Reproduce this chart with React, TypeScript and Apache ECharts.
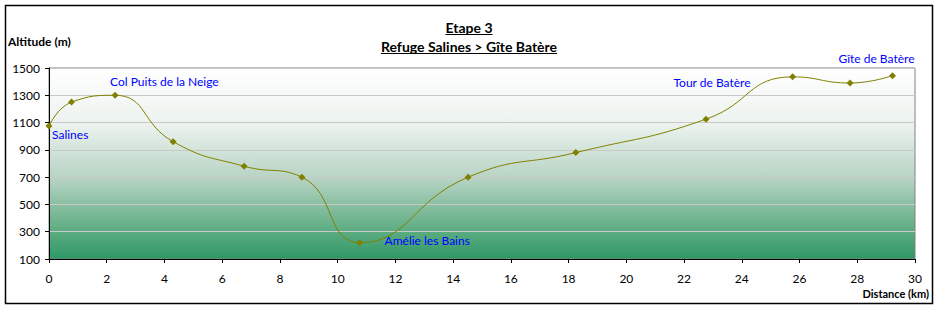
import React, { useEffect, useRef } from "react";
import * as echarts from "echarts";

// Distance (km) of each profile point
const distances = [0, 0.78, 2.29, 4.3, 6.76, 8.76, 10.76, 14.52, 18.25, 22.76, 25.76, 27.75, 29.22];
// Altitude (m) of each profile point
const altitudes = [1075, 1250, 1300, 960, 780, 700, 220, 700, 880, 1125, 1435, 1390, 1444];
// Place names attached to some points
const placeNames = ["Salines", "", "Col Puits de la Neige", "", "", "", "Amélie les Bains", "", "", "Tour de Batère", "", "", "Gîte de Batère"];

const titleLine1 = "Etape 3";
const titleLine2 = "Refuge Salines > Gîte Batère";
const yAxisTitle = "Altitude (m)";
const xAxisTitle = "Distance (km)";

const FONT = "Lato, 'DejaVu Sans', sans-serif";

// label placement (offsets from the marker centre)
const labelPlacement: Record<number, { dx: number; dy: number; align: string }> = {
  0: { dx: 3, dy: 9, align: "left" },
  2: { dx: -5, dy: -14, align: "left" },
  6: { dx: 25, dy: -2, align: "left" },
  9: { dx: 6, dy: -37, align: "center" },
  12: { dx: 22, dy: -17, align: "right" },
};

function measure(text: string, font: string): number {
  const c = document.createElement("canvas").getContext("2d");
  if (!c) return text.length * 7;
  c.font = font;
  return c.measureText(text).width;
}

export default function App() {
  const ref = useRef<HTMLDivElement>(null);
  useEffect(() => {
    if (!ref.current) return;
    const chart = echarts.init(ref.current, undefined, { renderer: "svg" });
    const SYM = 7;
    const data = distances.map((d, i) => {
      const item: any = { value: [d, altitudes[i]] };
      const p = labelPlacement[i];
      if (placeNames[i] && p) {
        item.label = {
          show: true,
          formatter: placeNames[i],
          position: [p.dx + SYM / 2, p.dy + SYM / 2],
          align: p.align,
          verticalAlign: "middle",
          color: "#0000ff",
          fontFamily: FONT,
          fontSize: 12,
        };
      }
      return item;
    });

    const titleFont1 = `bold 14px ${FONT}`;
    const titleFont2 = `bold 14px ${FONT}`;
    const w1 = measure(titleLine1, titleFont1);
    const w2 = measure(titleLine2, titleFont2);
    const cx = 469;

    chart.setOption({
      animation: false,
      backgroundColor: "#ffffff",
      grid: {
        left: 49,
        right: 24,
        top: 68,
        bottom: 51,
        show: true,
        borderColor: "#808080",
        borderWidth: 1,
        backgroundColor: {
          type: "linear",
          x: 0,
          y: 0,
          x2: 0,
          y2: 1,
          colorStops: [
            { offset: 0, color: "#ffffff" },
            { offset: 0.3, color: "#ebf2ee" },
            { offset: 0.58, color: "#b6d3c3" },
            { offset: 0.86, color: "#5aab80" },
            { offset: 1, color: "#2f9866" },
          ],
        },
      },
      xAxis: {
        type: "value",
        min: 0,
        max: 30,
        interval: 2,
        axisLine: { show: true, lineStyle: { color: "#000000", width: 1 } },
        axisTick: { show: true, length: 4, lineStyle: { color: "#000000" } },
        axisLabel: { color: "#000000", fontSize: 12, fontFamily: FONT, margin: 13 },
        splitLine: { show: false },
      },
      yAxis: {
        type: "value",
        min: 100,
        max: 1500,
        interval: 200,
        axisLine: { show: true, lineStyle: { color: "#000000", width: 1 } },
        axisTick: { show: true, length: 4, lineStyle: { color: "#000000" } },
        axisLabel: {
          color: "#000000",
          fontSize: 12,
          fontFamily: FONT,
          margin: 9,
          formatter: (v: number) => String(v),
        },
        splitLine: { show: true, lineStyle: { color: "#c8c8c8", width: 1 } },
      },
      series: [
        {
          type: "line",
          data,
          smooth: 0.5,
          symbol: "diamond",
          symbolSize: SYM,
          lineStyle: { color: "#808000", width: 1 },
          itemStyle: { color: "#808000" },
          z: 3,
        },
      ],
      graphic: [
        {
          type: "rect",
          shape: { x: 5.5, y: 5.5, width: 927, height: 298 },
          style: { fill: "none", stroke: "#000000", lineWidth: 1.5 },
          silent: true,
          z: 10,
        },
        {
          type: "text",
          x: cx,
          y: 27,
          style: {
            text: titleLine1,
            font: titleFont1,
            fill: "#000000",
            align: "center",
            verticalAlign: "middle",
          },
        },
        {
          type: "line",
          shape: { x1: cx - w1 / 2, y1: 34.5, x2: cx + w1 / 2, y2: 34.5 },
          style: { stroke: "#000000", lineWidth: 1 },
        },
        {
          type: "text",
          x: cx,
          y: 46,
          style: {
            text: titleLine2,
            font: titleFont2,
            fill: "#000000",
            align: "center",
            verticalAlign: "middle",
          },
        },
        {
          type: "line",
          shape: { x1: cx - w2 / 2, y1: 53.5, x2: cx + w2 / 2, y2: 53.5 },
          style: { stroke: "#000000", lineWidth: 1 },
        },
        {
          type: "text",
          x: 8,
          y: 41,
          style: {
            text: yAxisTitle,
            font: `bold 12px ${FONT}`,
            fill: "#000000",
            align: "left",
            verticalAlign: "middle",
          },
        },
        {
          type: "text",
          x: 929,
          y: 293,
          style: {
            text: xAxisTitle,
            font: `bold 11px ${FONT}`,
            fill: "#000000",
            align: "right",
            verticalAlign: "middle",
          },
        },
      ],
    });
    return () => chart.dispose();
  }, []);
  return (
    <div
      ref={ref}
      style={{ position: "absolute", left: 0, top: 0, width: 939, height: 310 }}
    />
  );
}
